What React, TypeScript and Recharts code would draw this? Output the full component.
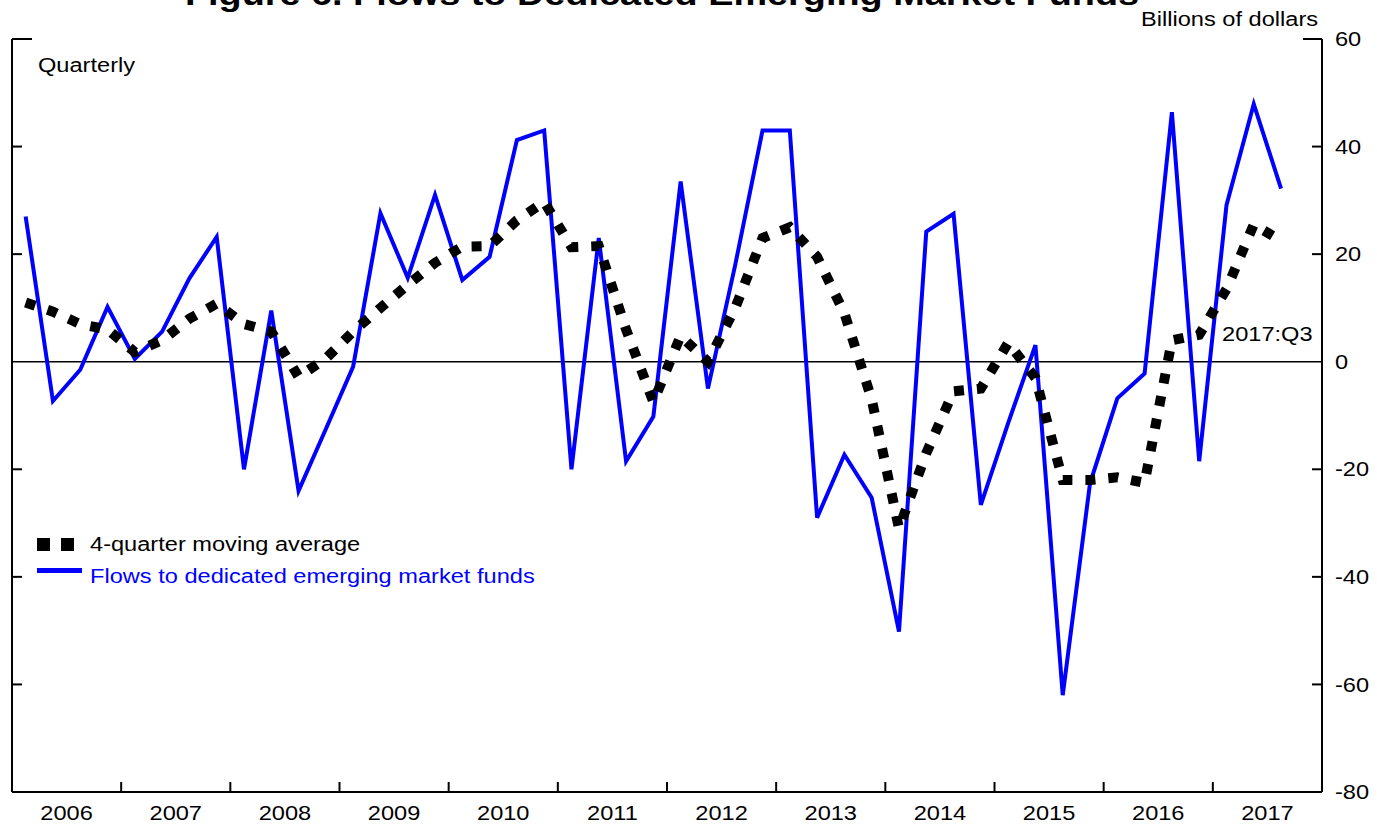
import React from 'react';
import { LineChart, Line, XAxis, YAxis, ReferenceLine, Legend } from 'recharts';

const years = ['2006', '2007', '2008', '2009', '2010', '2011', '2012', '2013', '2014', '2015', '2016', '2017'];

// quarterly flows, billions of dollars (2006:Q1 .. 2017:Q3)
const flows = [
  27, -7.3, -1.5, 10.2,
  0.5, 5.6, 15.5, 23.2,
  -20, 9.5, -24, -12.5,
  -0.9, 27.6, 15.6, 31,
  15.2, 19.5, 41.2, 43,
  -20, 23, -18.5, -10.2,
  33.5, -5, 18, 43,
  43, -29, -17.3, -25.3,
  -50.2, 24.2, 27.5, -26.6,
  -11.4, 3.1, -62, -22.6,
  -6.8, -2.2, 46.4, -18.5,
  29.1, 47.9, 32.2,
];

const movingAvg = [
  11, 9.3, 7, 6,
  1.8, 4, 8, 10.8,
  7, 5.6, -2.8, 0.6,
  5.6, 10, 14.3, 18.4,
  21.4, 21.5, 26.3, 29.7,
  21.3, 21.5, 6, -7.5,
  4.8, 0, 10, 23,
  25, 19.5, 9, -7,
  -31, -17, -5.5, -5,
  3.5, -3, -22, -22,
  -21.5, -22.5, 4, 5,
  13.5, 25.5, 22.5,
];

const yTicks = [-80, -60, -40, -20, 0, 20, 40, 60];

const data = flows.map((flow, i) => ({ q: i, flow, avg: movingAvg[i] }));
const yearCenters = years.map((_, i) => i * 4 + 1.5);
const yearEdges = years.slice(1).map((_, i) => i * 4 + 3.5);

const FONT = '"Liberation Sans", Arial, sans-serif';
const SX = 1.18;

function XTick({ x, y, payload }: any) {
  const k = yearCenters.indexOf(payload.value);
  if (k >= 0) {
    return (
      <text
        transform={`translate(${x},${y + 20.5}) scale(${SX},1)`}
        textAnchor="middle"
        dy="0.36em"
        fontFamily={FONT}
        fontSize={20}
        fill="#000"
      >
        {years[k]}
      </text>
    );
  }
  return <line x1={x} x2={x} y1={y} y2={y - 10} stroke="#000" strokeWidth={2} />;
}

function LeftTick({ x, y, payload }: any) {
  const len = payload.value === 60 ? 20 : 10;
  if (payload.value === -80 || payload.value === 0) return <g />;
  return <line x1={x} x2={x + len} y1={y} y2={y} stroke="#000" strokeWidth={2} />;
}

function RightTick({ x, y, payload }: any) {
  const len = payload.value === 60 ? 19 : 10;
  return (
    <g>
      {payload.value !== -80 && payload.value !== 0 && (
        <line x1={x - len} x2={x} y1={y} y2={y} stroke="#000" strokeWidth={2} />
      )}
      <text
        transform={`translate(${x + 13},${y}) scale(${SX},1)`}
        textAnchor="start"
        dy="0.36em"
        fontFamily={FONT}
        fontSize={20}
        fill="#000"
      >
        {payload.value}
      </text>
    </g>
  );
}

function Note({ left, top, children, color = '#000' }: any) {
  return (
    <div
      style={{
        position: 'absolute',
        left,
        top,
        fontFamily: FONT,
        fontSize: 20,
        lineHeight: 1,
        color,
        whiteSpace: 'nowrap',
        transform: `scaleX(${SX})`,
        transformOrigin: 'left top',
      }}
    >
      {children}
    </div>
  );
}

function LegendBox() {
  return (
    <div style={{ position: 'relative', width: 600, height: 80 }}>
      <div style={{ position: 'absolute', left: 37, top: 7.5, width: 13, height: 13, background: '#000' }} />
      <div style={{ position: 'absolute', left: 61, top: 7.5, width: 13, height: 13, background: '#000' }} />
      <Note left={90} top={4}>4-quarter moving average</Note>
      <div style={{ position: 'absolute', left: 37, top: 38, width: 45, height: 5, background: '#0000ff' }} />
      <Note left={90} top={35.5} color="#0000ff">Flows to dedicated emerging market funds</Note>
    </div>
  );
}

export default function App() {
  return (
    <div style={{ position: 'absolute', left: 0, top: 0, width: 1377, height: 828, background: '#fff', overflow: 'hidden' }}>
      <LineChart width={1377} height={828} data={data} margin={{ top: 39, right: 0, left: 0, bottom: 0 }}>
        <XAxis
          dataKey="q"
          type="number"
          domain={[-0.5, 47.5]}
          ticks={[...yearEdges, ...yearCenters].sort((a, b) => a - b)}
          interval={0}
          height={36}
          tickSize={0}
          tickMargin={0}
          tick={(p: any) => <XTick {...p} />}
          axisLine={{ stroke: '#000', strokeWidth: 2 }}
        />
        <YAxis
          yAxisId="left"
          orientation="left"
          width={12}
          domain={[-80, 60]}
          ticks={yTicks}
          interval={0}
          tickSize={0}
          tickMargin={0}
          tick={(p: any) => <LeftTick {...p} />}
          axisLine={{ stroke: '#000', strokeWidth: 2 }}
        />
        <YAxis
          yAxisId="right"
          orientation="right"
          width={55}
          domain={[-80, 60]}
          ticks={yTicks}
          interval={0}
          tickSize={0}
          tickMargin={0}
          tick={(p: any) => <RightTick {...p} />}
          axisLine={{ stroke: '#000', strokeWidth: 2 }}
        />
        <ReferenceLine yAxisId="left" y={0} stroke="#000" strokeWidth={1.5} />
        <Line
          yAxisId="left"
          type="linear"
          dataKey="flow"
          stroke="#0000ff"
          strokeWidth={4}
          dot={false}
          isAnimationActive={false}
        />
        <Line
          yAxisId="right"
          type="linear"
          dataKey="avg"
          stroke="#000"
          strokeWidth={10}
          strokeDasharray="10 13"
          dot={false}
          isAnimationActive={false}
        />
        <Legend
          layout="horizontal"
          verticalAlign="middle"
          align="center"
          content={() => <LegendBox />}
          wrapperStyle={{ left: 0, top: 530, width: 600 }}
        />
      </LineChart>
      <div
        style={{
          position: 'absolute',
          left: 0,
          width: 1324,
          top: -21,
          textAlign: 'center',
          fontFamily: FONT,
          fontSize: 31,
          fontWeight: 'bold',
          lineHeight: 1,
          whiteSpace: 'nowrap',
          transform: 'scaleX(1.22)',
        }}
      >
        Figure 6. Flows to Dedicated Emerging Market Funds
      </div>
      <Note left={1141} top={9}>Billions of dollars</Note>
      <Note left={38} top={55}>Quarterly</Note>
      <Note left={1222} top={324}>2017:Q3</Note>
    </div>
  );
}
